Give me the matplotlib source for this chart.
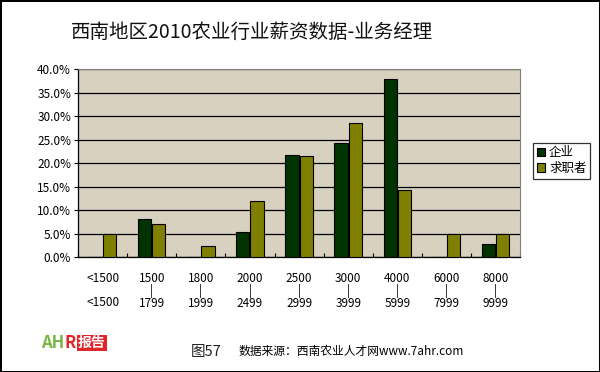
"""
西南地区2010农业行业薪资数据 - 业务经理 (grouped bar chart).
"""

import numpy as np
import matplotlib
matplotlib.use("Agg")
import matplotlib.pyplot as plt
from matplotlib.ticker import FuncFormatter

plt.rcParams['font.family'] = ['Noto Sans CJK SC', 'DejaVu Sans']

# Data (percent)
salary_top = ["<1500", "1500", "1800", "2000", "2500", "3000", "4000", "6000", "8000"]
salary_bottom = ["<1500", "1799", "1999", "2499", "2999", "3999", "5999", "7999", "9999"]
employer = [0.0, 8.0, 0.0, 5.3, 21.7, 24.3, 38.0, 0.0, 2.8]
job_seeker = [5.0, 7.0, 2.3, 11.9, 21.5, 28.5, 14.2, 5.0, 5.0]
series_names = ["企业", "求职者"]

DARK_GREEN = "#003300"
OLIVE = "#808000"
PLOT_BG = "#d8d1bf"


def make_labels():
    labels = []
    for top, bottom in zip(salary_top, salary_bottom):
        if top == bottom:
            labels.append(f"{top}\n\n{bottom}")
        else:
            labels.append(f"{top}\n|\n{bottom}")
    return labels


def main():
    fig = plt.figure(figsize=(6.0, 3.72), dpi=100)
    fig.patch.set_facecolor("white")
    fig.patch.set_edgecolor("black")
    fig.patch.set_linewidth(2)

    ax = fig.add_axes([0.130, 0.309, 0.737, 0.505])
    ax.set_facecolor(PLOT_BG)

    x = np.arange(len(salary_top))
    width = 0.27
    ax.bar(x - width / 2 - 0.01, employer, width, color=DARK_GREEN,
           edgecolor="black", linewidth=0.8, label=series_names[0], zorder=3)
    ax.bar(x + width / 2 + 0.01, job_seeker, width, color=OLIVE,
           edgecolor="black", linewidth=0.8, label=series_names[1], zorder=3)

    ax.set_xlim(-0.5, len(salary_top) - 0.5)
    ax.set_ylim(0, 40)
    ax.set_yticks(np.arange(0, 40.1, 5))
    ax.yaxis.set_major_formatter(FuncFormatter(lambda v, _: f"{v:.1f}%"))
    ax.yaxis.grid(True, color="black", linewidth=0.9, zorder=1)
    ax.tick_params(axis="y", length=3, width=0.8, labelsize=8.5, pad=2)

    # category boundary ticks on the x axis, labels at centers
    ax.set_xticks(np.arange(-0.5, len(salary_top) - 0.4, 1.0))
    ax.set_xticklabels([])
    ax.tick_params(axis="x", direction="in", length=3, width=0.8)
    ax.set_xticks(x, minor=True)
    ax.set_xticklabels(make_labels(), minor=True, fontsize=8.5, linespacing=0.9)
    ax.tick_params(axis="x", which="minor", length=0, pad=11)

    for side in ["top", "right"]:
        ax.spines[side].set_color("#808080")
        ax.spines[side].set_linewidth(0.8)
    for side in ["left", "bottom"]:
        ax.spines[side].set_color("black")
        ax.spines[side].set_linewidth(0.9)

    leg = ax.legend(loc="center left", bbox_to_anchor=(0.888, 0.568),
                    bbox_transform=fig.transFigure, fontsize=9,
                    frameon=True, fancybox=False, handlelength=0.7,
                    handleheight=0.7, handletextpad=0.3, borderpad=0.3,
                    labelspacing=0.2, borderaxespad=0)
    leg.get_frame().set_edgecolor("black")
    leg.get_frame().set_linewidth(0.9)

    fig.text(0.42, 0.912, "西南地区2010农业行业薪资数据-业务经理",
             ha="center", va="center", fontsize=14, color="#111111")

    # footer: logo and source
    fig.canvas.draw()
    renderer = fig.canvas.get_renderer()
    ah = fig.text(0.068, 0.077, "AH", ha="left", va="center", fontsize=12,
                  fontweight="bold", style="italic", color="#76b843")
    ah_right = ah.get_window_extent(renderer).x1 / fig.bbox.width
    r = fig.text(ah_right, 0.077, "R", ha="left", va="center", fontsize=12,
                 fontweight="bold", style="italic", color="#e0262b")
    r_right = r.get_window_extent(renderer).x1 / fig.bbox.width
    fig.text(r_right + 0.004, 0.077, "报告", ha="left", va="center", fontsize=10,
             fontweight="bold", color="white",
             bbox=dict(boxstyle="square,pad=0.08", facecolor="#e0262b",
                       edgecolor="none"))
    fig.text(0.318, 0.054, "图57", ha="left", va="center", fontsize=10.5,
             color="#222222")
    fig.text(0.398, 0.054, "数据来源：西南农业人才网www.7ahr.com", ha="left",
             va="center", fontsize=8.5, color="black")

    fig.savefig("out.png", dpi=100)
    plt.close(fig)


if __name__ == "__main__":
    main()
